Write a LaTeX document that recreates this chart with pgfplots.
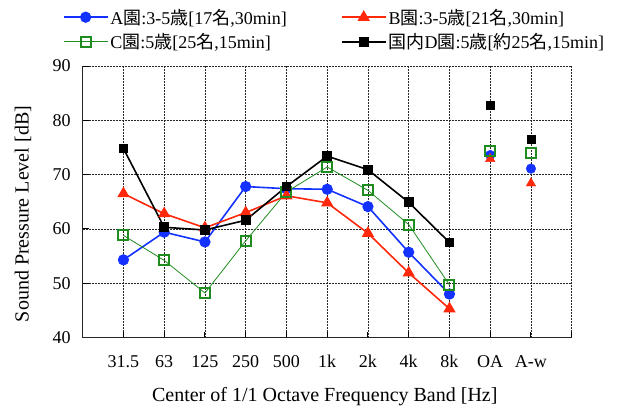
\documentclass[border=0pt]{standalone}
\usepackage{pgfplots}
\pgfplotsset{compat=1.18}
\usepackage{fontspec}
\setmainfont{Liberation Serif}
\newfontfamily\cjk{Noto Sans CJK JP}
\definecolor{cA}{RGB}{20,50,255}
\definecolor{cB}{RGB}{255,40,10}
\definecolor{cC}{RGB}{30,140,30}
\begin{document}
\begin{tikzpicture}
\path[use as bounding box] (0,0) rectangle (619pt,408pt);
\begin{axis}[
  at={(82.7pt,70.5pt)}, anchor=south west,
  scale only axis, width=489pt, height=271.5pt,
  xmin=-1, xmax=11, ymin=40, ymax=90,
  xtick={0,...,11},
  xticklabels={31.5,63,125,250,500,1k,2k,4k,8k,OA,A-w,{}},
  ytick={40,50,...,90},
  axis x line*=bottom, axis y line*=left,
  xtick pos=bottom, ytick pos=left,
  tick align=inside, major tick length=6pt,
  tick style={black, line width=1pt},
  axis line style={black!85, line width=1.6pt},
  grid=major,
  major grid style={black!85, line width=0.7pt, dash pattern=on 2pt off 1pt},
  /pgf/number format/assume math mode=true,
  ticklabel style={font=\fontsize{18}{20}\selectfont},
  xticklabel style={anchor=base, yshift=-30pt},
  yticklabel style={xshift=-8.5pt},
  xlabel={Center of 1/1 Octave Frequency Band [Hz]},
  ylabel={Sound Pressure Level [dB]},
  label style={font=\fontsize{20}{22}\selectfont},
  xlabel style={at={(axis description cs:0.495,-0.219)}, anchor=center},
  ylabel style={at={(axis description cs:-0.122,0.455)}, anchor=center, rotate=0},
  legend columns=2,
  legend cell align=left,
  legend style={draw=none, fill=none, inner sep=0pt,
    at={(axis description cs:-0.041,1.05)}, anchor=south west,
    font=\fontsize{18}{20}\selectfont, row sep=4pt,
    /tikz/every even column/.append style={column sep=52pt}},
  legend image code/.code={
    \draw[mark repeat=2,mark phase=2] plot coordinates {(0pt,0pt) (22pt,0pt) (44pt,0pt)};
  },
]
\addplot[cA, line width=1.6pt, mark=*, mark size=4.8pt, mark options={solid, fill=cA}]
  coordinates {(0,54.3) (1,59.4) (2,57.6) (3,67.8) (4,67.4) (5,67.3) (6,64.1) (7,55.7) (8,48.0)};
\addlegendentry{A{\cjk 園}:3-5{\cjk 歳}[17{\cjk 名},30min]}
\addplot[cB, line width=1.6pt, mark=triangle*, mark size=5.5pt, mark options={solid, fill=cB}]
  coordinates {(0,66.5) (1,62.8) (2,60.2) (3,63.0) (4,66.1) (5,64.8) (6,59.2) (7,51.9) (8,45.3)};
\addlegendentry{B{\cjk 園}:3-5{\cjk 歳}[21{\cjk 名},30min]}
\addplot[cC, line width=0.8pt, mark=square, mark size=5pt, mark options={solid, line width=2pt, fill=white}]
  coordinates {(0,58.8) (1,54.2) (2,48.2) (3,57.8) (4,66.8) (5,71.4) (6,67.1) (7,60.8) (8,49.7)};
\addlegendentry{C{\cjk 園}:5{\cjk 歳}[25{\cjk 名},15min]}
\addplot[black, line width=1.6pt, mark=square*, mark size=4pt, mark options={solid, fill=black}]
  coordinates {(0,74.8) (1,60.3) (2,59.8) (3,61.6) (4,67.8) (5,73.4) (6,70.9) (7,64.9) (8,57.5)};
\addlegendentry{{\cjk 国内}D{\cjk 園}:5{\cjk 歳}[{\cjk 約}25{\cjk 名},15min]}
\addplot[cA, only marks, mark=*, mark size=4.8pt, mark options={solid, fill=cA}, forget plot]
  coordinates {(9,73.6) (10,71.1)};
\addplot[cB, only marks, mark=triangle*, mark size=5.5pt, mark options={solid, fill=cB}, forget plot]
  coordinates {(9,72.9) (10,68.4)};
\addplot[cC, only marks, mark=square, mark size=5pt, mark options={solid, line width=2pt, fill=white}, forget plot]
  coordinates {(9,74.4) (10,74.0)};
\addplot[black, only marks, mark=square*, mark size=4pt, mark options={solid, fill=black}, forget plot]
  coordinates {(9,82.8) (10,76.6)};
\end{axis}
\end{tikzpicture}
\end{document}
